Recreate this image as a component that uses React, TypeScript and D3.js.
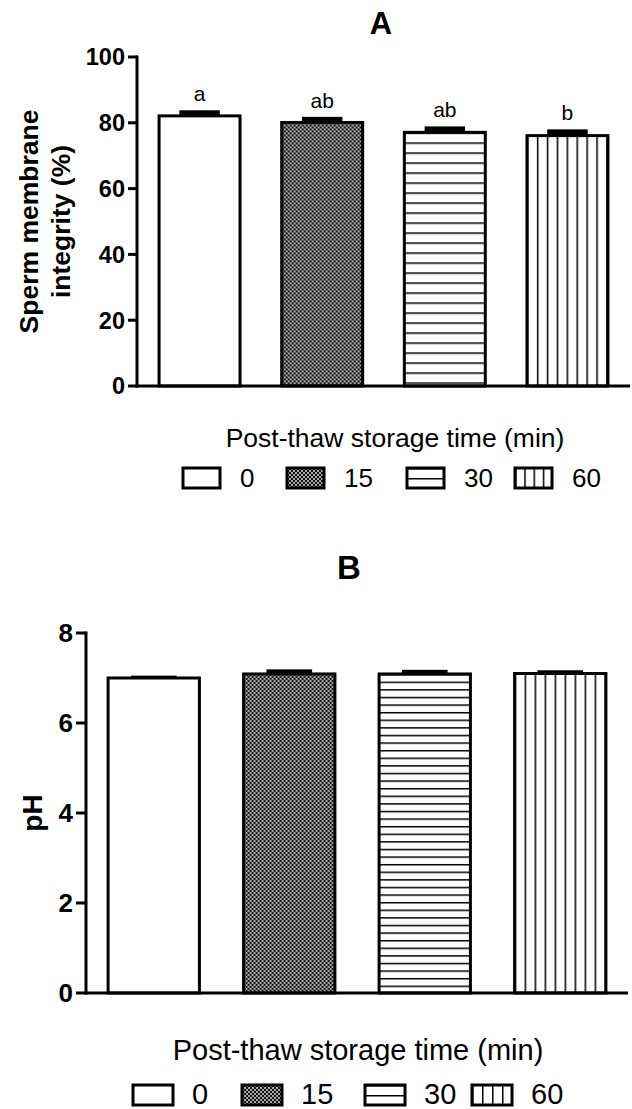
import React from 'react';
import * as d3 from 'd3';

// storage time groups (min)
const groups = ['0', '15', '30', '60'];

// panel A: sperm membrane integrity (%)
const membraneMean = [82.1, 80.1, 77.1, 76.1];
const membraneSE = [1.4, 1.4, 1.5, 1.6];
const membraneLetters = ['a', 'ab', 'ab', 'b'];
const membraneTicks = [0, 20, 40, 60, 80, 100];

// panel B: pH
const phMean = [7.0, 7.09, 7.09, 7.1];
const phSE = [0.03, 0.08, 0.07, 0.05];
const phTicks = [0, 2, 4, 6, 8];

const patternKinds = ['none', 'checker', 'hlines', 'vlines'];

const FONT = '"Liberation Sans", Arial, sans-serif';

type PanelCfg = {
  id: string;
  title: string;
  titleX: number;
  titleY: number;
  titleSize: number;
  x0: number;
  x1: number;
  yTop: number;
  yBottom: number;
  domain: [number, number];
  ticks: number[];
  tickSize: number;
  tickLen: number;
  pi: number;
  po: number;
  means: number[];
  ses: number[];
  letters?: string[];
  hSpacing: number;
  vSpacing: number;
  yLabel: string[];
  yLabelX: number[];
  yLabelSize: number;
  xLabelX: number;
  xLabelY: number;
  xLabelSize: number;
  legendBoxX: number[];
  legendBoxW: number;
  legendTextDx: number;
  legendTop: number;
  legendSize: number;
};

const panelA: PanelCfg = {
  id: 'A',
  title: 'A',
  titleX: 381,
  titleY: 34,
  titleSize: 31,
  x0: 137,
  x1: 630,
  yTop: 57,
  yBottom: 386,
  domain: [0, 100],
  ticks: membraneTicks,
  tickSize: 23.5,
  tickLen: 9,
  pi: 0.34,
  po: 0.18,
  means: membraneMean,
  ses: membraneSE,
  letters: membraneLetters,
  hSpacing: 10,
  vSpacing: 9.9,
  yLabel: ['Sperm membrane', 'integrity (%)'],
  yLabelX: [38, 70],
  yLabelSize: 26.5,
  xLabelX: 395,
  xLabelY: 447,
  xLabelSize: 26.5,
  legendBoxX: [183, 287, 407, 515],
  legendBoxW: 37,
  legendTextDx: 57,
  legendTop: 468,
  legendSize: 26,
};

const panelB: PanelCfg = {
  id: 'B',
  title: 'B',
  titleX: 349,
  titleY: 579,
  titleSize: 33,
  x0: 86,
  x1: 628,
  yTop: 633,
  yBottom: 993,
  domain: [0, 8],
  ticks: phTicks,
  tickSize: 26,
  tickLen: 10,
  pi: 0.326,
  po: 0.163,
  means: phMean,
  ses: phSE,
  hSpacing: 7.6,
  vSpacing: 10,
  yLabel: ['pH'],
  yLabelX: [42],
  yLabelSize: 28,
  xLabelX: 358,
  xLabelY: 1060,
  xLabelSize: 29,
  legendBoxX: [133, 242, 365, 472],
  legendBoxW: 40,
  legendTextDx: 59,
  legendTop: 1085,
  legendSize: 29,
};

function Pattern({ id, kind, x, y, hSpacing, vSpacing }: any) {
  if (kind === 'checker') {
    return (
      <pattern id={id} patternUnits="userSpaceOnUse" x={x} y={y} width={4} height={4}>
        <rect width={4} height={4} fill="#111" />
        <rect x={0.2} y={0.2} width={1.6} height={1.6} fill="#fff" />
        <rect x={2.2} y={2.2} width={1.6} height={1.6} fill="#fff" />
      </pattern>
    );
  }
  if (kind === 'hlines') {
    return (
      <pattern id={id} patternUnits="userSpaceOnUse" x={x} y={y} width={10} height={hSpacing}>
        <rect width={10} height={hSpacing} fill="#fff" />
        <line x1={0} x2={10} y1={0} y2={0} stroke="#000" strokeWidth={3} />
      </pattern>
    );
  }
  if (kind === 'vlines') {
    return (
      <pattern id={id} patternUnits="userSpaceOnUse" x={x} y={y} width={vSpacing} height={10}>
        <rect width={vSpacing} height={10} fill="#fff" />
        <line x1={0} x2={0} y1={0} y2={10} stroke="#000" strokeWidth={3} />
      </pattern>
    );
  }
  return null;
}

function Panel({ cfg }: { cfg: PanelCfg }) {
  const x = d3
    .scaleBand<string>()
    .domain(groups)
    .range([cfg.x0, cfg.x1])
    .paddingInner(cfg.pi)
    .paddingOuter(cfg.po);
  const y = d3.scaleLinear().domain(cfg.domain).range([cfg.yBottom, cfg.yTop]);
  const bw = x.bandwidth();
  const capW = bw * 0.5;
  const legendH = 20;

  return (
    <g fontFamily={FONT}>
      <defs>
        {groups.map((g, i) => (
          <Pattern
            key={'p' + g}
            id={`${cfg.id}-bar-${i}`}
            kind={patternKinds[i]}
            x={x(g)}
            y={y(cfg.means[i])}
            hSpacing={cfg.hSpacing}
            vSpacing={cfg.vSpacing}
          />
        ))}
        {groups.map((g, i) => (
          <Pattern
            key={'l' + g}
            id={`${cfg.id}-leg-${i}`}
            kind={patternKinds[i]}
            x={cfg.legendBoxX[i]}
            y={cfg.legendTop}
            hSpacing={legendH / 2}
            vSpacing={cfg.legendBoxW / 4}
          />
        ))}
      </defs>

      <text
        x={cfg.titleX}
        y={cfg.titleY}
        textAnchor="middle"
        fontWeight="bold"
        fontSize={cfg.titleSize}
      >
        {cfg.title}
      </text>

      {/* bars */}
      {groups.map((g, i) => (
        <rect
          key={'bar' + g}
          x={x(g)}
          y={y(cfg.means[i])}
          width={bw}
          height={y(0) - y(cfg.means[i])}
          fill={patternKinds[i] === 'none' ? '#fff' : `url(#${cfg.id}-bar-${i})`}
          stroke="#000"
          strokeWidth={3}
        />
      ))}

      {/* error bars (mean + SE) */}
      {groups.map((g, i) => {
        const cx = (x(g) as number) + bw / 2;
        const top = y(cfg.means[i] + cfg.ses[i]);
        return (
          <rect
            key={'err' + g}
            x={cx - capW / 2}
            y={top - 1}
            width={capW}
            height={y(cfg.means[i]) - top + 1}
            fill="#000"
          />
        );
      })}

      {/* significance letters */}
      {cfg.letters &&
        groups.map((g, i) => (
          <text
            key={'let' + g}
            x={(x(g) as number) + bw / 2}
            y={y(cfg.means[i] + cfg.ses[i]) - 10}
            textAnchor="middle"
            fontSize={21}
          >
            {cfg.letters![i]}
          </text>
        ))}

      {/* y axis */}
      <line x1={cfg.x0} x2={cfg.x0} y1={cfg.yTop - 1.5} y2={cfg.yBottom + 1.5} stroke="#000" strokeWidth={3} />
      {cfg.ticks.map((t) => (
        <g key={'t' + t} transform={`translate(${cfg.x0},${y(t)})`}>
          <line x1={-cfg.tickLen} x2={0} stroke="#000" strokeWidth={3} />
          <text
            x={-cfg.tickLen - 3}
            dy="0.36em"
            textAnchor="end"
            fontWeight="bold"
            fontSize={cfg.tickSize}
          >
            {t}
          </text>
        </g>
      ))}

      {/* x axis */}
      <line x1={cfg.x0 - 1.5} x2={cfg.x1} y1={cfg.yBottom} y2={cfg.yBottom} stroke="#000" strokeWidth={3} />

      {/* y label */}
      {cfg.yLabel.map((l, k) => (
        <text
          key={'yl' + k}
          transform={`translate(${cfg.yLabelX[k]},${(cfg.yTop + cfg.yBottom) / 2}) rotate(-90)`}
          textAnchor="middle"
          fontWeight="bold"
          fontSize={cfg.yLabelSize}
        >
          {l}
        </text>
      ))}

      {/* x label */}
      <text x={cfg.xLabelX} y={cfg.xLabelY} textAnchor="middle" fontSize={cfg.xLabelSize}>
        Post-thaw storage time (min)
      </text>

      {/* legend */}
      {groups.map((g, i) => (
        <g key={'leg' + g}>
          <rect
            x={cfg.legendBoxX[i]}
            y={cfg.legendTop}
            width={cfg.legendBoxW}
            height={legendH}
            fill={patternKinds[i] === 'none' ? '#fff' : `url(#${cfg.id}-leg-${i})`}
            stroke="#000"
            strokeWidth={3}
          />
          <text
            x={cfg.legendBoxX[i] + cfg.legendTextDx}
            y={cfg.legendTop + legendH - 1}
            fontSize={cfg.legendSize}
          >
            {g}
          </text>
        </g>
      ))}
    </g>
  );
}

export default function App() {
  return (
    <svg
      width={632}
      height={1109}
      style={{ position: 'absolute', left: 0, top: 0, background: '#fff' }}
    >
      <rect width={632} height={1109} fill="#fff" />
      <Panel cfg={panelA} />
      <Panel cfg={panelB} />
    </svg>
  );
}
